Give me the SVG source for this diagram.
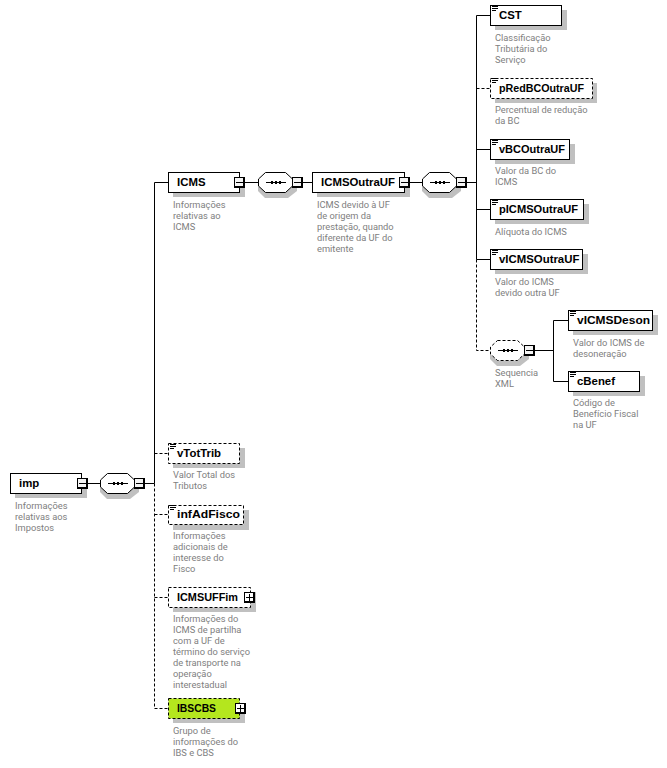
<svg xmlns="http://www.w3.org/2000/svg" width="667" height="768" viewBox="0 0 667 768">
<style>
text{font-family:Roboto,"Liberation Sans",sans-serif}
.t{font-family:"Liberation Sans",Arial,sans-serif;font-size:11.4px;font-weight:700;fill:#000}
.d{font-size:9.3px;fill:#808080}
.s{fill:#c0c0c0;stroke:none}
.b{fill:#fff;stroke:#000;stroke-width:1}
.o{fill:#fff;stroke:#000;stroke-width:1;stroke-dasharray:3 2}
.g{fill:#b4e61e;stroke:#000;stroke-width:1;stroke-dasharray:3 2}
.l{fill:none;stroke:#000;stroke-width:1}
.a{fill:none;stroke:#000;stroke-width:1;stroke-dasharray:3 2}
.m{fill:none;stroke:#000;stroke-width:1}
</style>
<defs>
<g id="minus"><rect x=".5" y=".5" width="10" height="10" fill="#f4f4f4" stroke="#000"/><path d="M10 0V11M0 10H11" stroke="#000" stroke-width="2" fill="none"/><path class="m" d="M2 5.500H9"/></g>
<g id="plus"><rect x=".5" y=".5" width="10" height="10" fill="#fff" stroke="#000"/><path d="M10 0V11M0 10H11" stroke="#000" stroke-width="2" fill="none"/><path class="m" d="M2 5.500H9M5.500 2V9"/></g>
<path id="ic" class="m" d="M0 .5H6M0 2.500H6M0 4.500H4"/>
<path id="seqs" class="s" d="M7 5H29L39 12V19L30 26H7L0 19V12Z"/>
<path id="seqb" d="M7.500 .5H27.500L34.500 7V14L27.500 20.500H7.500L.5 14V7Z"/>
<g id="dots"><path d="M8 10.500H28" stroke="#000" fill="none"/><path d="M13 9h2v3h-2zM17 9h2v3h-2zM21 9h2v3h-2z" fill="#000"/></g>
</defs>
<g id="connectors">
<path class="l" d="M87 483.500H100M145 483.500H154.500M154.500 483.500V182.500H168M245 182.500H258M303 182.500H312M410 182.500H422M467 182.500H476.500M476.500 259.500V15.500H490M476.500 149.500H490M476.500 209.500H490M476.500 259.500H490M535 350.500H553.500M568 320.500H553.500V381.500H568"/>
<path class="a" d="M154.500 483.500V708.500M154.500 453.500H168M154.500 514.500H168M154.500 597.500H168M154.500 708.500H168M476.500 88.500H490M476.500 259.500V350.500H490"/>
</g>
<g id="imp"><rect class="s" x="15" y="478" width="72" height="20"/><rect class="b" x="10.500" y="473.500" width="71" height="20"/><text class="t" x="19" y="486.500">imp</text><use href="#minus" x="77" y="478"/><text class="d" x="15" y="509">Informações</text><text class="d" x="15" y="520">relativas aos</text><text class="d" x="15" y="531">Impostos</text></g>
<g id="seq1"><use href="#seqs" x="100" y="473"/><use href="#seqb" x="100" y="473" class="b"/><use href="#dots" x="100" y="473"/><use href="#minus" x="134" y="478"/></g>
<g id="ICMS"><rect class="s" x="173" y="177" width="72" height="20"/><rect class="b" x="168.500" y="172.500" width="71" height="20"/><text class="t" x="177" y="185.500">ICMS</text><use href="#minus" x="234" y="177"/><text class="d" x="173" y="208">Informações</text><text class="d" x="173" y="219">relativas ao</text><text class="d" x="173" y="230">ICMS</text></g>
<g id="seq2"><use href="#seqs" x="258" y="172"/><use href="#seqb" x="258" y="172" class="b"/><use href="#dots" x="258" y="172"/><use href="#minus" x="292" y="177"/></g>
<g id="ICMSOutraUF"><rect class="s" x="317" y="177" width="93" height="20"/><rect class="b" x="312.500" y="172.500" width="92" height="20"/><text class="t" x="321" y="185.500">ICMSOutraUF</text><use href="#minus" x="399" y="177"/><text class="d" x="317" y="208">ICMS devido à UF</text><text class="d" x="317" y="219">de origem da</text><text class="d" x="317" y="230">prestação, quando</text><text class="d" x="317" y="241">diferente da UF do</text><text class="d" x="317" y="252">emitente</text></g>
<g id="seq3"><use href="#seqs" x="422" y="172"/><use href="#seqb" x="422" y="172" class="b"/><use href="#dots" x="422" y="172"/><use href="#minus" x="456" y="177"/></g>
<g id="CST"><rect class="s" x="495" y="10" width="72" height="20"/><rect class="b" x="490.500" y="5.500" width="71" height="20"/><use href="#ic" x="492" y="6"/><text class="t" x="499" y="18.500">CST</text><text class="d" x="495" y="41">Classificação</text><text class="d" x="495" y="52">Tributária do</text><text class="d" x="495" y="63">Serviço</text></g>
<g id="pRedBCOutraUF"><rect class="s" x="495" y="83" width="102" height="20"/><rect class="o" x="490.500" y="78.500" width="102" height="20"/><use href="#ic" x="492" y="78"/><text class="t" x="499" y="91.500" textLength="85" lengthAdjust="spacingAndGlyphs">pRedBCOutraUF</text><text class="d" x="495" y="113">Percentual de redução</text><text class="d" x="495" y="124">da BC</text></g>
<g id="vBCOutraUF"><rect class="s" x="495" y="144" width="80" height="20"/><rect class="b" x="490.500" y="139.500" width="79" height="20"/><use href="#ic" x="492" y="140"/><text class="t" x="499" y="152.500" textLength="66" lengthAdjust="spacingAndGlyphs">vBCOutraUF</text><text class="d" x="495" y="174">Valor da BC do</text><text class="d" x="495" y="185">ICMS</text></g>
<g id="pICMSOutraUF"><rect class="s" x="495" y="204" width="94" height="20"/><rect class="b" x="490.500" y="199.500" width="93" height="20"/><use href="#ic" x="492" y="200"/><text class="t" x="499" y="212.500" textLength="79" lengthAdjust="spacingAndGlyphs">pICMSOutraUF</text><text class="d" x="495" y="235">Alíquota do ICMS</text></g>
<g id="vICMSOutraUF"><rect class="s" x="495" y="254" width="93" height="20"/><rect class="b" x="490.500" y="249.500" width="92" height="20"/><use href="#ic" x="492" y="250"/><text class="t" x="499" y="262.500">vICMSOutraUF</text><text class="d" x="495" y="285">Valor do ICMS</text><text class="d" x="495" y="296">devido outra UF</text></g>
<g id="seq4"><use href="#seqs" x="490" y="340"/><use href="#seqb" x="490" y="340" class="o"/><use href="#dots" x="490" y="340"/><use href="#minus" x="524" y="345"/><text class="d" x="495" y="376">Sequencia</text><text class="d" x="495" y="387">XML</text></g>
<g id="vICMSDeson"><rect class="s" x="573" y="315" width="85" height="20"/><rect class="b" x="568.500" y="310.500" width="84" height="20"/><use href="#ic" x="570" y="311"/><text class="t" x="577" y="323.500" textLength="73" lengthAdjust="spacingAndGlyphs">vICMSDeson</text><text class="d" x="573" y="346">Valor do ICMS de</text><text class="d" x="573" y="357">desoneração</text></g>
<g id="cBenef"><rect class="s" x="573" y="376" width="72" height="20"/><rect class="b" x="568.500" y="371.500" width="71" height="20"/><use href="#ic" x="570" y="372"/><text class="t" x="577" y="384.500">cBenef</text><text class="d" x="573" y="406">Código de</text><text class="d" x="573" y="417">Benefício Fiscal</text><text class="d" x="573" y="428">na UF</text></g>
<g id="vTotTrib"><rect class="s" x="173" y="448" width="72" height="20"/><rect class="o" x="168.500" y="443.500" width="71" height="20"/><use href="#ic" x="170" y="444"/><text class="t" x="177" y="456.500">vTotTrib</text><text class="d" x="173" y="478">Valor Total dos</text><text class="d" x="173" y="489">Tributos</text></g>
<g id="infAdFisco"><rect class="s" x="173" y="510" width="76" height="20"/><rect class="o" x="168.500" y="505.500" width="75" height="19"/><use href="#ic" x="170" y="505"/><text class="t" x="177" y="518" textLength="63" lengthAdjust="spacingAndGlyphs">infAdFisco</text><text class="d" x="173" y="539">Informações</text><text class="d" x="173" y="550">adicionais de</text><text class="d" x="173" y="561">interesse do</text><text class="d" x="173" y="572">Fisco</text></g>
<g id="ICMSUFFim"><rect class="s" x="173" y="592" width="83" height="20"/><rect class="o" x="168.500" y="587.500" width="82" height="20"/><text class="t" x="177" y="600.500" textLength="61" lengthAdjust="spacingAndGlyphs">ICMSUFFim</text><use href="#plus" x="244" y="592"/><text class="d" x="173" y="622">Informações do</text><text class="d" x="173" y="633">ICMS de partilha</text><text class="d" x="173" y="644">com a UF de</text><text class="d" x="173" y="655">término do serviço</text><text class="d" x="173" y="666">de transporte na</text><text class="d" x="173" y="677">operação</text><text class="d" x="173" y="688">interestadual</text></g>
<g id="IBSCBS"><rect class="s" x="173" y="703" width="72" height="20"/><rect class="g" x="168.500" y="698.500" width="71" height="20"/><text class="t" x="177" y="711.500" textLength="39" lengthAdjust="spacingAndGlyphs">IBSCBS</text><use href="#plus" x="235" y="703"/><text class="d" x="173" y="734">Grupo de</text><text class="d" x="173" y="745">informações do</text><text class="d" x="173" y="756">IBS e CBS</text></g>
</svg>
